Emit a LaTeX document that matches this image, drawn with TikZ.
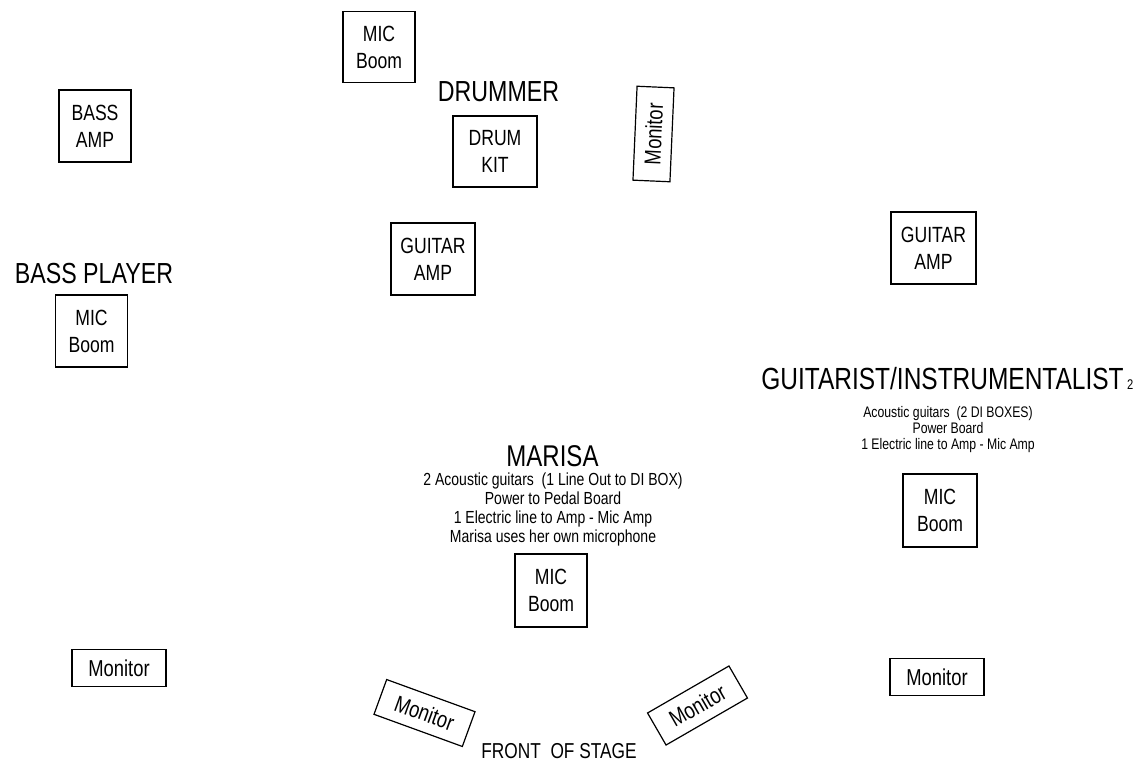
\documentclass[tikz,border=0pt]{standalone}
\usepackage{fontspec}
\setmainfont{Liberation Sans}[FakeStretch=0.8]
\usepackage{tikz}

\begin{document}
\begin{tikzpicture}[x=1pt,y=-1pt,
  gear/.style={draw,line width=1.2pt,inner sep=0pt,align=center,
    minimum width=72pt,minimum height=72pt,font=\fontsize{22}{27}\selectfont},
  wedge/.style={draw,line width=1.2pt,inner sep=0pt,
    minimum width=94pt,minimum height=37pt,font=\fontsize{23}{27}\selectfont},
  player/.style={anchor=base,inner sep=0pt,font=\fontsize{29}{33}\selectfont},
  notes/.style={anchor=north,align=center,inner sep=0pt}]
  \useasboundingbox (0,0) rectangle (1140,761);
  % bass player
  \node[gear] (bassamp) at (95,126) {BASS\\AMP};
  \node[player] (bassplayer) at (94,283) {BASS PLAYER};
  \node[gear] (bassmic) at (91.5,331) {MIC\\Boom};
  % drummer
  \node[gear,minimum height=71pt] (drummic) at (379,47) {MIC\\Boom};
  \node[player] (drummer) at (498.5,101) {DRUMMER};
  \node[gear,minimum width=84pt,minimum height=71pt] (drumkit) at (495,151.5) {DRUM\\KIT};
  \node[wedge,rotate=87.5] (drummon) at (653.5,134) {Monitor};
  \node[gear,minimum width=84pt] (leftamp) at (433,259) {GUITAR\\AMP};
  % guitarist
  \node[gear,minimum width=85pt] (rightamp) at (933.5,248) {GUITAR\\AMP};
  \node[player,font=\fontsize{30.6}{34}\selectfont] (guitarist) at (942.5,389)
    {GUITARIST/INSTRUMENTALIST};
  \node[anchor=base west,inner sep=0pt,font=\fontsize{14}{16}\selectfont]
    (gtwo) at (1127,389) {2};
  \node[notes,font=\fontsize{15.3}{16}\selectfont] (guitnotes) at (948,406)
    {Acoustic guitars\ \ (2 DI BOXES)\\Power Board\\1 Electric line to Amp - Mic Amp};
  \node[gear,minimum width=74pt,minimum height=73pt] (guitmic) at (940,510.5) {MIC\\Boom};
  % marisa
  \node[player,font=\fontsize{30}{34}\selectfont] (marisa) at (552.5,466) {MARISA};
  \node[notes,font=\fontsize{17.5}{19}\selectfont] (marisanotes) at (553,473)
    {2 Acoustic guitars\ \ (1 Line Out to DI BOX)\\Power to Pedal Board\\
     1 Electric line to Amp - Mic Amp\\Marisa uses her own microphone};
  \node[gear,minimum height=73pt] (marisamic) at (551,590.5) {MIC\\Boom};
  % front wedges
  \node[wedge] (leftmon) at (119,668) {Monitor};
  \node[wedge] (rightmon) at (937,677) {Monitor};
  \node[wedge,rotate=-20] (frontleft) at (424.5,713) {Monitor};
  \node[wedge,rotate=30] (frontright) at (697.5,705.5) {Monitor};
  \node[anchor=base,inner sep=0pt,font=\fontsize{21.6}{25}\selectfont]
    (front) at (559,758) {FRONT\ \ OF STAGE};
\end{tikzpicture}
\end{document}
